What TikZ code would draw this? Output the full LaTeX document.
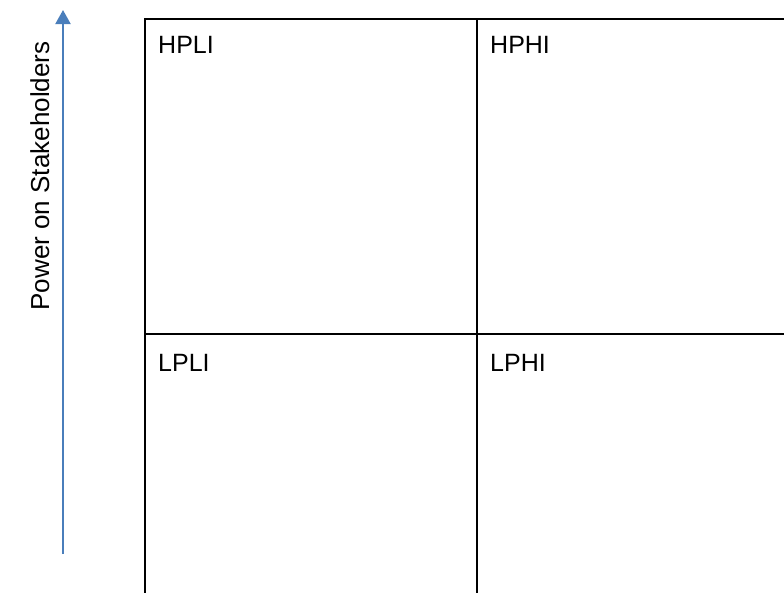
\documentclass[tikz,border=0pt]{standalone}
\usepackage{fontspec}
\setmainfont{Liberation Sans}
\usetikzlibrary{positioning,arrows.meta}
\definecolor{axisBlue}{RGB}{74,126,187}
\tikzset{
  cellbox/.style={draw, line width=1.8pt, outer sep=0pt, inner sep=0pt, minimum width=332pt, minimum height=315pt},
  celltext/.style={anchor=base west, inner sep=0pt, font=\fontsize{25}{29}\selectfont},
  axisArrow/.style={draw=axisBlue, line width=2pt, -{Triangle[width=15pt,length=14pt]}}
}
\begin{document}
\begin{tikzpicture}[x=1pt, y=-1pt]
\useasboundingbox (0,0) rectangle (784,592);
% power / interest grid
\node[cellbox, anchor=north west] (hpli) at (145,19) {};
\node[cellbox, right=0pt of hpli] (hphi) {};
\node[cellbox, below=0pt of hpli] (lpli) {};
\node[cellbox, below=0pt of hphi] (lphi) {};
\node[celltext] (hpliText) at ([shift={(13,34)}]hpli.north west) {HPLI};
\node[celltext] (hphiText) at ([shift={(13,34)}]hphi.north west) {HPHI};
\node[celltext] (lpliText) at ([shift={(13,37)}]lpli.north west) {LPLI};
\node[celltext] (lphiText) at ([shift={(13,37)}]lphi.north west) {LPHI};
% vertical axis
\coordinate (axisFoot) at (63,554);
\coordinate (axisTip) at (63,10);
\draw[axisArrow] (axisFoot) -- (axisTip);
\node[rotate=90, anchor=base, inner sep=0pt, font=\fontsize{26}{30}\selectfont] (axisLabel) at (49,176) {Power on Stakeholders};
\end{tikzpicture}
\end{document}
